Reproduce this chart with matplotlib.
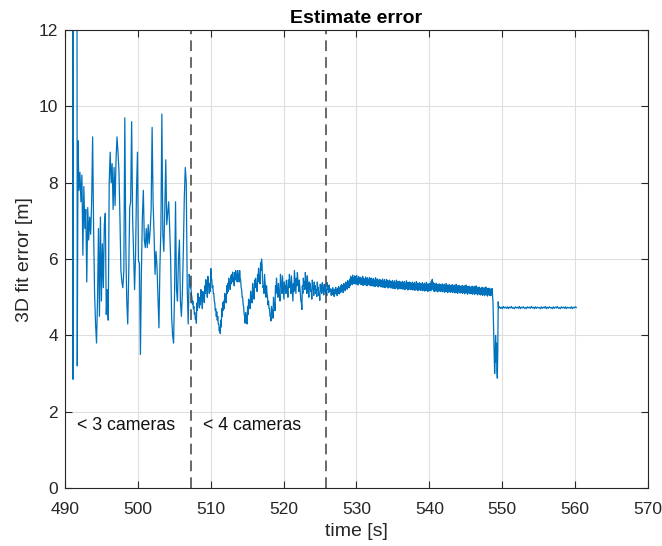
import numpy as np
import matplotlib
matplotlib.use('Agg')
import matplotlib.pyplot as plt

plt.rcParams['font.family'] = ['Liberation Sans', 'DejaVu Sans']

# 1. Dados: erro do ajuste 3D ao longo do tempo, por trecho
# trecho inicial (valores acima de 12 saem do gráfico)
t_inicio = [491.10, 491.13, 491.16, 491.66, 491.70]
erro_inicio = [14.0, 2.85, 14.0, 14.0, 3.2]

# trecho com menos de 3 câmeras
t_trecho1 = (491.8, 507.05)
erro_trecho1 = [9.1, 7.8, 8.27, 7.5, 8.2, 6.1, 7.9, 6.8, 7.3, 5.4,
                7.35, 6.5, 7.1, 6.65, 7.5, 9.2, 6.8, 5.1, 4.3, 3.8,
                4.9, 6.8, 4.5, 7.1, 4.9, 6.4, 5.25, 6.9, 7.2, 4.55,
                5.2, 4.4, 8.0, 8.8, 8.0, 8.5, 7.3, 8.4, 7.4, 8.6,
                9.2, 8.8, 8.3, 7.1, 5.7, 5.4, 5.25, 5.7, 9.7, 6.4,
                4.9, 4.3,
                5.6, 7.35, 7.5, 9.6, 7.1, 6.1, 5.2, 6.1, 7.8, 8.8,
                5.95, 5.9, 3.5, 5.6, 7.1, 7.8, 6.5, 6.3, 6.8, 6.3,
                6.9, 6.4, 6.75, 7.3, 9.45, 7.5, 6.65, 5.6, 6.2, 5.8,
                5.0, 4.2, 5.8, 6.8, 9.8, 6.65, 6.2, 7.3, 8.6, 6.9,
                7.2, 7.5, 6.8, 6.0, 4.5, 4.0, 3.8, 5.1, 7.5, 5.2,
                4.9, 6.0, 6.5, 4.9, 4.5, 5.1, 6.2, 7.6, 8.4, 8.0,
                5.25, 4.3, 5.6]

# trecho com menos de 4 câmeras
t_trecho2 = (507.15, 526.33)
erro_trecho2 = [5.45, 5.25, 5.28, 5.08, 5.0, 4.82, 4.9, 4.7, 4.76, 4.55,
                4.6, 4.42, 4.5, 4.32, 4.85, 4.66, 5.1, 4.9, 4.9, 4.72,
                5.0, 4.8, 5.2, 5.0, 4.92, 4.7, 5.15, 4.96, 5.06, 4.86,
                5.3, 5.1, 5.46, 5.24, 5.2, 5.0, 5.55, 5.35, 5.3, 5.1,
                5.36, 5.15, 5.75, 5.52, 5.45, 5.25, 5.3, 5.1, 5.1, 4.9,
                4.86, 4.65, 4.7, 4.5, 4.62, 4.4, 4.5, 4.3, 4.3, 4.12,
                4.2, 4.05, 4.4, 4.22, 4.7, 4.5, 4.86, 4.66, 4.9, 4.7,
                5.1, 4.9, 5.06, 4.85, 5.3, 5.1, 5.36, 5.15, 5.5, 5.3,
                5.4, 5.2, 5.56, 5.35, 5.6, 5.4, 5.66, 5.45, 5.5, 5.3,
                5.65, 5.45, 5.7, 5.5, 5.6, 5.4, 5.7, 5.5, 5.6, 5.4,
                5.7, 5.5, 5.45, 5.25, 5.2, 5.0, 5.0, 4.8, 4.76, 4.55,
                4.5, 4.32, 4.6, 4.4, 4.5, 4.3, 4.76, 4.55, 4.95, 4.75,
                4.9, 4.7, 5.16, 4.95, 5.06, 4.85, 5.36, 5.15, 5.16, 4.95,
                5.45, 5.25, 5.5, 5.3, 5.36, 5.15, 5.6, 5.4, 5.76, 5.55,
                5.56, 5.35,
                5.9, 5.7, 6.0, 5.85, 5.45, 5.25, 5.3, 5.1, 5.6, 5.4,
                5.2, 5.0, 5.3, 5.1, 5.0, 4.8, 4.9, 4.7, 4.7, 4.5,
                4.5, 4.38, 4.76, 4.55, 4.66, 4.45, 5.0, 4.8, 4.86, 4.65,
                5.3, 5.1, 5.5, 5.3, 5.2, 5.0, 5.36, 5.15, 5.1, 4.9,
                5.6, 5.4, 5.3, 5.1, 5.56, 5.35, 5.16, 4.95, 5.4, 5.2,
                5.3, 5.1, 5.45, 5.25, 5.2, 5.0, 5.45, 5.25, 5.6, 5.4,
                5.3, 5.1, 5.56, 5.35, 5.1, 4.9, 5.36, 5.15, 5.7, 5.5,
                5.3, 5.1, 5.5, 5.3, 5.65, 5.45, 5.36, 5.15, 5.45, 5.25,
                5.1, 4.9, 4.86, 4.68, 5.3, 5.1, 5.5, 5.3, 5.4, 5.2,
                5.65, 5.45, 5.3, 5.1, 5.56, 5.35, 5.2, 5.0, 5.4, 5.2,
                5.36, 5.15, 5.16, 4.95, 5.45, 5.25, 5.26, 5.05, 5.4, 5.2,
                5.3, 5.1, 5.2, 5.02, 5.4, 5.2, 5.26, 5.05, 5.1, 4.92,
                5.34, 5.16, 5.3, 5.1, 5.38, 5.2, 5.25, 5.06, 5.34, 5.16,
                5.3, 5.12, 5.2, 5.04, 5.38, 5.2, 5.3, 5.12, 5.32, 5.16]

# trecho estável
t_trecho3 = (526.47, 548.66)
erro_trecho3 = [5.22, 5.05, 5.20, 5.09, 5.25, 5.06, 5.18, 5.02, 5.21, 5.10,
                5.26, 5.08, 5.19, 5.04, 5.24, 5.11, 5.28, 5.09, 5.22, 5.12,
                5.30, 5.14, 5.33, 5.18, 5.29, 5.12, 5.36, 5.20, 5.34, 5.17,
                5.40, 5.24, 5.37, 5.21, 5.44, 5.27, 5.41, 5.25, 5.47, 5.30,
                5.55, 5.36, 5.51, 5.33, 5.58, 5.38, 5.50, 5.35, 5.56, 5.40,
                5.53, 5.34, 5.57, 5.37, 5.49, 5.32, 5.54, 5.38, 5.51, 5.36,
                5.52, 5.33, 5.49, 5.35, 5.55, 5.31, 5.50, 5.36, 5.47, 5.32,
                5.53, 5.34, 5.48, 5.30, 5.51, 5.35, 5.46, 5.33, 5.52, 5.31,
                5.48, 5.30, 5.50, 5.32, 5.45, 5.29, 5.49, 5.33, 5.44, 5.28,
                5.51, 5.31, 5.46, 5.30, 5.48, 5.27, 5.43, 5.32, 5.47, 5.29,
                5.45, 5.27, 5.43, 5.29, 5.48, 5.26, 5.42, 5.30, 5.46, 5.25,
                5.41, 5.28, 5.47, 5.27, 5.44, 5.24, 5.42, 5.29, 5.45, 5.26,
                5.42, 5.24, 5.40, 5.26, 5.44, 5.23, 5.39, 5.27, 5.43, 5.22,
                5.38, 5.25, 5.45, 5.24, 5.41, 5.21, 5.40, 5.26, 5.42, 5.23,
                5.40, 5.22, 5.38, 5.24, 5.42, 5.21, 5.37, 5.25, 5.41, 5.20,
                5.36, 5.23, 5.43, 5.22, 5.39, 5.19, 5.38, 5.24, 5.40, 5.21,
                5.38, 5.20, 5.36, 5.22, 5.40, 5.19, 5.35, 5.23, 5.39, 5.18,
                5.34, 5.21, 5.41, 5.20, 5.37, 5.17, 5.36, 5.22, 5.38, 5.19,
                5.36, 5.18, 5.34, 5.20, 5.38, 5.17, 5.33, 5.21, 5.37, 5.16,
                5.32, 5.19, 5.39, 5.18, 5.35, 5.15, 5.34, 5.20, 5.36, 5.17,
                5.35, 5.17, 5.42, 5.20, 5.47, 5.22, 5.39, 5.16, 5.36, 5.15,
                5.33, 5.18, 5.37, 5.16, 5.34, 5.14, 5.33, 5.19, 5.35, 5.16,
                5.33, 5.15, 5.31, 5.17, 5.35, 5.14, 5.30, 5.18, 5.34, 5.13,
                5.29, 5.16, 5.36, 5.15, 5.32, 5.12, 5.31, 5.17, 5.33, 5.14,
                5.31, 5.13, 5.29, 5.15, 5.33, 5.12, 5.28, 5.16, 5.32, 5.11,
                5.27, 5.14, 5.34, 5.13, 5.30, 5.10, 5.29, 5.15, 5.31, 5.12,
                5.29, 5.11, 5.27, 5.13, 5.31, 5.10, 5.26, 5.14, 5.30, 5.09,
                5.25, 5.12, 5.32, 5.11, 5.28, 5.08, 5.27, 5.13, 5.29, 5.10,
                5.27, 5.09, 5.25, 5.11, 5.29, 5.08, 5.24, 5.12, 5.28, 5.07,
                5.23, 5.10, 5.30, 5.09, 5.26, 5.06, 5.25, 5.11, 5.27, 5.08,
                5.24, 5.06, 5.22, 5.08, 5.26, 5.05, 5.21, 5.09, 5.25, 5.04,
                5.20, 5.07, 5.27, 5.06, 5.23, 5.03, 5.22, 5.08, 5.24, 5.05,
                5.22, 5.04, 5.20, 5.06, 5.23, 5.05]

# queda perto de 549 s
t_queda = [548.72, 548.80, 548.88, 548.95, 549.02, 549.08, 549.14,
           549.20, 549.26, 549.32, 549.38, 549.44, 549.50]
erro_queda = [4.90, 4.20, 3.60, 3.00, 3.40, 4.00, 3.30,
              3.80, 3.10, 2.88, 3.60, 4.88, 4.72]

# trecho final
t_trecho4 = (549.6, 560.15)
erro_trecho4 = [4.75, 4.71, 4.74, 4.70, 4.76, 4.72, 4.74, 4.71, 4.75, 4.70,
                4.74, 4.72, 4.76, 4.71, 4.73, 4.70, 4.75, 4.72, 4.74, 4.71,
                4.76, 4.70, 4.74, 4.72, 4.75, 4.71, 4.73, 4.70, 4.75, 4.72,
                4.74, 4.71, 4.76, 4.72, 4.74, 4.70, 4.75, 4.71, 4.74, 4.72,
                4.73, 4.70, 4.75, 4.71, 4.74, 4.72, 4.76, 4.70, 4.74, 4.71,
                4.75, 4.72, 4.73, 4.70, 4.75, 4.71, 4.74, 4.72, 4.76, 4.71,
                4.73, 4.70, 4.75, 4.72, 4.74, 4.71, 4.75, 4.70, 4.74, 4.72,
                4.73, 4.71, 4.75, 4.70, 4.74, 4.72, 4.75, 4.73]

# instantes em que muda o número de câmeras
limites = [507.35, 525.85]
rotulos = ['< 3 cameras', '< 4 cameras']
pos_rotulos = [491.6, 508.9]

# 2. Montar a série completa
def tempos(intervalo, valores):
    return np.linspace(intervalo[0], intervalo[1], len(valores))

tempo = np.concatenate([t_inicio,
                        tempos(t_trecho1, erro_trecho1),
                        tempos(t_trecho2, erro_trecho2),
                        tempos(t_trecho3, erro_trecho3),
                        t_queda,
                        tempos(t_trecho4, erro_trecho4)])
erro = np.concatenate([erro_inicio, erro_trecho1, erro_trecho2,
                       erro_trecho3, erro_queda, erro_trecho4])

# 3. Plotagem
fig = plt.figure(figsize=(6.62, 5.46), dpi=100)
ax = fig.add_axes([0.098, 0.106, 0.881, 0.839])

ax.plot(tempo, erro, color='#0072BD', linewidth=0.9)

for x in limites:
    ax.axvline(x, color='#404040', linestyle=(0, (7, 4)), linewidth=1.1)

for x, texto in zip(pos_rotulos, rotulos):
    ax.text(x, 1.65, texto, fontsize=12.8, va='center', ha='left',
            color='#111111')

ax.set_xlim(490, 570)
ax.set_ylim(0, 12)
ax.set_xticks(np.arange(490, 571, 10))
ax.set_yticks(np.arange(0, 13, 2))
ax.grid(True, color='#dfdfdf', linewidth=0.8)
ax.set_axisbelow(True)
ax.tick_params(direction='in', top=True, right=True, length=5,
               labelsize=12.5, colors='#262626', width=0.8)
ax.tick_params(axis='x', pad=10)
ax.tick_params(axis='y', pad=5)
for lado in ax.spines.values():
    lado.set_color('#262626')
    lado.set_linewidth(0.8)

ax.set_title('Estimate error', fontsize=14, fontweight='bold', pad=5)
ax.set_xlabel('time [s]', fontsize=14, color='#262626', labelpad=4)
ax.set_ylabel('3D fit error [m]', fontsize=14, color='#262626', labelpad=4)

fig.savefig('out.png', dpi=100)
